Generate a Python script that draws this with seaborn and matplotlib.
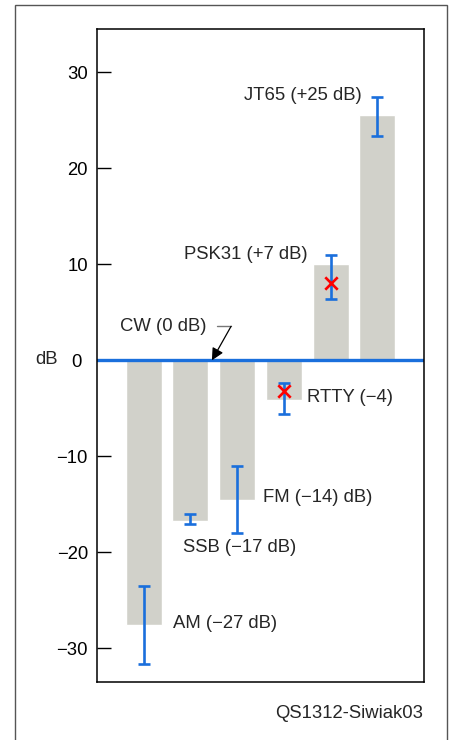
import matplotlib
matplotlib.use("Agg")
import matplotlib.pyplot as plt
import matplotlib.patches as mpatches
import matplotlib.transforms as mtransforms
import pandas as pd
import seaborn as sns

# ============================================================
# DATA
# ============================================================
modes = ["AM", "SSB", "FM", "RTTY", "PSK31", "JT65"]
bar_db = [-27.6, -16.7, -14.6, -4.1, 10.0, 25.5]
err_low = [-31.6, -17.0, -18.0, -5.6, 6.4, 23.4]
err_high = [-23.5, -16.0, -11.0, -2.4, 11.0, 27.4]
cross_modes = ["RTTY", "PSK31"]
cross_db = [-3.2, 8.1]
yticks = [-30, -20, -10, 0, 10, 20, 30]
ytick_labels = ["\u221230", "\u221220", "\u221210", "0", "10", "20", "30"]

BAR_COLOR = "#d1d1ca"
BLUE = "#1a6fdc"

sns.set_theme(style="white")
plt.rcParams["font.family"] = ["Liberation Sans", "DejaVu Sans"]

df = pd.DataFrame({"mode": modes, "db": bar_db})

fig = plt.figure(figsize=(4.52, 7.40), dpi=100)
ax = fig.add_axes([0.2146, 0.0784, 0.7235, 0.8824])

sns.barplot(data=df, x="mode", y="db", order=modes, color=BAR_COLOR,
            saturation=1, width=0.77, errorbar=None, ax=ax, zorder=1)

# error ranges
pos = {m: i for i, m in enumerate(modes)}
xs = [pos[m] for m in modes]
mid = [(lo + hi) / 2 for lo, hi in zip(err_low, err_high)]
half = [(hi - lo) / 2 for lo, hi in zip(err_low, err_high)]
ax.errorbar(xs, mid, yerr=half, fmt="none", ecolor=BLUE, elinewidth=1.9,
            capsize=4, capthick=1.9, zorder=3)

# measured points
ax.scatter([pos[m] for m in cross_modes], cross_db, marker="x", color="red",
           s=80, linewidths=1.9, zorder=4)

ax.axhline(0, color=BLUE, lw=2.4, zorder=2)

ax.set_xlim(-1, 6)
ax.set_ylim(-33.5, 34.5)
ax.set_xticks([])
ax.set_xlabel("")
ax.set_ylabel("")
ax.set_yticks(yticks)
ax.set_yticklabels(ytick_labels)
ax.tick_params(axis="y", direction="in", length=10, width=1, pad=6.5,
               labelsize=13.3, colors="black", left=True)
for s in ax.spines.values():
    s.set_color("black")
    s.set_linewidth(1.1)

# the zero label sits a little further left, next to "dB"
zero_lbl = ax.yaxis.get_major_ticks()[3].label1
zero_lbl.set_transform(zero_lbl.get_transform() +
                       mtransforms.ScaledTranslation(-0.06, 0, fig.dpi_scale_trans))

fs = 13.3
ax.text(4.66, 27.6, "JT65 (+25 dB)", ha="right", va="center", fontsize=fs)
ax.text(3.5, 11.0, "PSK31 (+7 dB)", ha="right", va="center", fontsize=fs)
ax.text(1.35, 3.5, "CW (0 dB)", ha="right", va="center", fontsize=fs)
ax.text(3.5, -3.85, "RTTY (\u22124)", ha="left", va="center", fontsize=fs)
ax.text(2.55, -14.3, "FM (\u221214) dB)", ha="left", va="center", fontsize=fs)
ax.text(0.84, -19.5, "SSB (\u221217 dB)", ha="left", va="center", fontsize=fs)
ax.text(0.62, -27.4, "AM (\u221227 dB)", ha="left", va="center", fontsize=fs)

# CW pointer
ax.plot([1.57, 1.87], [3.54, 3.54], color="#777777", lw=1, zorder=5)
ax.annotate("", xy=(1.46, 0.0), xytext=(1.87, 3.54),
            arrowprops=dict(arrowstyle="-|>", color="black", lw=0.9,
                            mutation_scale=18, shrinkA=0, shrinkB=0),
            zorder=5)

fig.text(47 / 452, 1 - 360 / 740, "dB", ha="center", va="center", fontsize=fs)
fig.text(423 / 452, 1 - 713 / 740, "QS1312-Siwiak03", ha="right", va="center",
         fontsize=fs)

frame = mpatches.Rectangle((15 / 452, -0.02), 432 / 452, 0.9926 + 0.02,
                           transform=fig.transFigure, fill=False,
                           edgecolor="#555555", lw=1)
fig.patches.append(frame)

fig.savefig("out.png", dpi=100)
